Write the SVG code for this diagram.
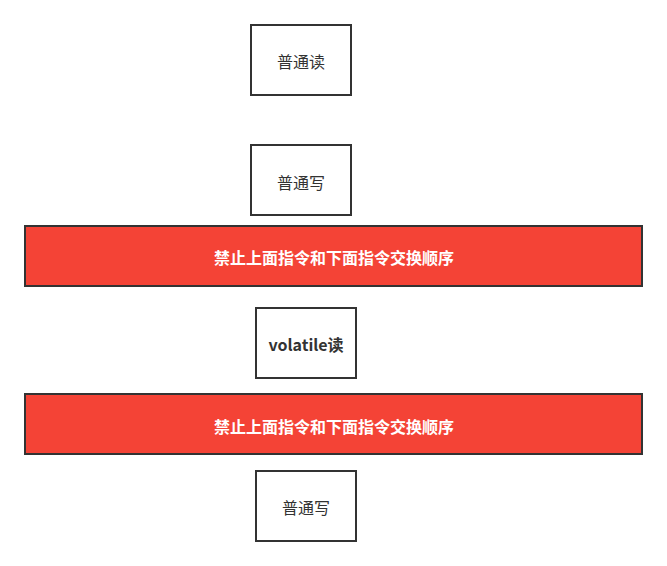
<svg xmlns="http://www.w3.org/2000/svg" width="667" height="566" viewBox="0 0 667 566">
<style>
.box{fill:#fff;stroke:#333;stroke-width:2}
.bar{fill:#f44336;stroke:#333;stroke-width:2}
.t{font-family:"Noto Sans CJK SC","Liberation Sans",sans-serif;font-size:16px;fill:#333;text-anchor:middle;dominant-baseline:central}
.w{font-family:"Noto Sans CJK SC","Liberation Sans",sans-serif;font-size:16px;font-weight:bold;fill:#fff;text-anchor:middle;dominant-baseline:central}
</style>
<rect width="667" height="566" fill="#fff"/>
<g id="n1"><rect class="box" x="251" y="25" width="100" height="70"/><text class="t" x="301" y="61">普通读</text></g>
<g id="n2"><rect class="box" x="251" y="145" width="100" height="70"/><text class="t" x="301" y="182">普通写</text></g>
<g id="bar1"><rect class="bar" x="25" y="226" width="617" height="60"/><text class="w" x="334" y="257">禁止上面指令和下面指令交换顺序</text></g>
<g id="n3"><rect class="box" x="256" y="308" width="100" height="70"/><text class="t" x="306" y="344" style="font-weight:bold">volatile读</text></g>
<g id="bar2"><rect class="bar" x="25" y="394" width="617" height="60"/><text class="w" x="334" y="426">禁止上面指令和下面指令交换顺序</text></g>
<g id="n4"><rect class="box" x="256" y="471" width="100" height="70"/><text class="t" x="306" y="507">普通写</text></g>
<g id="connectors"></g>
</svg>
